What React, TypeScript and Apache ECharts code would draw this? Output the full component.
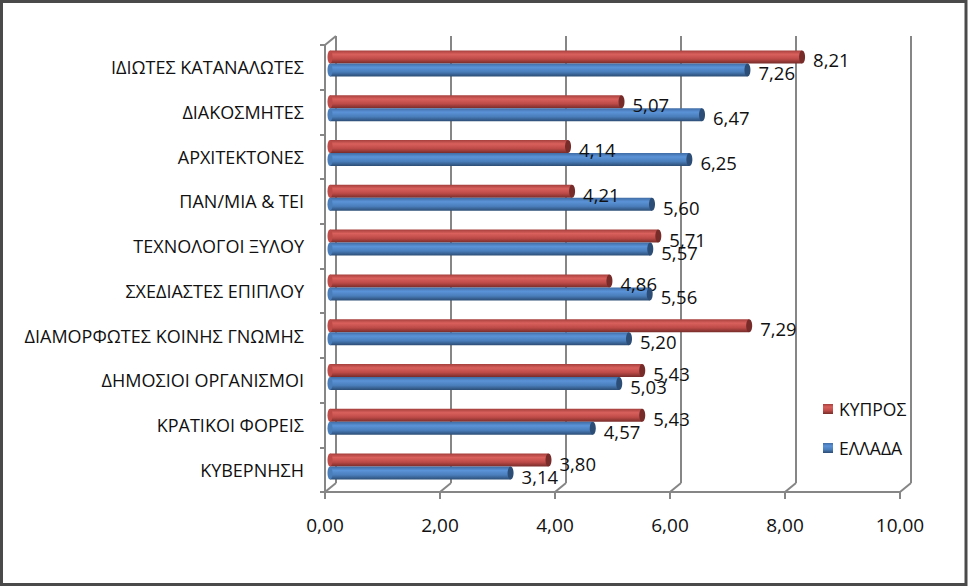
import React, { useEffect, useRef } from "react";
import * as echarts from "echarts";

const categories = ["ΚΥΒΕΡΝΗΣΗ", "ΚΡΑΤΙΚΟΙ ΦΟΡΕΙΣ", "ΔΗΜΟΣΙΟΙ ΟΡΓΑΝΙΣΜΟΙ", "ΔΙΑΜΟΡΦΩΤΕΣ ΚΟΙΝΗΣ ΓΝΩΜΗΣ", "ΣΧΕΔΙΑΣΤΕΣ ΕΠΙΠΛΟΥ", "ΤΕΧΝΟΛΟΓΟΙ ΞΥΛΟΥ", "ΠΑΝ/ΜΙΑ & ΤΕΙ", "ΑΡΧΙΤΕΚΤΟΝΕΣ", "ΔΙΑΚΟΣΜΗΤΕΣ", "ΙΔΙΩΤΕΣ ΚΑΤΑΝΑΛΩΤΕΣ"];
const greece = [3.14, 4.57, 5.03, 5.2, 5.56, 5.57, 5.6, 6.25, 6.47, 7.26];
const cyprus = [3.8, 5.43, 5.43, 7.29, 4.86, 5.71, 4.21, 4.14, 5.07, 8.21];
const ticks = [0, 2, 4, 6, 8, 10];

const FONT = "'Open Sans', sans-serif";
const GRID = "#868686";
const BAR_H = 13;
const fmt = (v: number) => v.toFixed(2).replace(".", ",");

const grad = (a: string, b: string, c: string, d: string) => new echarts.graphic.LinearGradient(0, 0, 0, 1, [
  { offset: 0, color: a }, { offset: 0.3, color: b }, { offset: 0.65, color: c }, { offset: 1, color: d },
]);

const barSeries = (name: string, data: number[], fill: any) => ({
  type: "bar", name, data, xAxisIndex: 2, yAxisIndex: 2, barWidth: BAR_H, barGap: "0%", z: 5,
  itemStyle: { color: fill },
  label: { show: true, position: "right", distance: 11, offset: [0, 3], formatter: (p: any) => fmt(p.value), fontFamily: FONT, fontSize: 18.5, color: "#111" },
});

const capSeries = (name: string, data: number[], dy: number, capColor: string, fill: string) => ({
  type: "custom", name, xAxisIndex: 2, yAxisIndex: 2, z: 6, silent: true,
  data: data.map((v, i) => [v, i]),
  renderItem: (_: any, api: any) => {
    const end = api.coord([api.value(0), api.value(1)]);
    const start = api.coord([0, api.value(1)]);
    return { type: "group", children: [
      { type: "ellipse", shape: { cx: start[0], cy: end[1] + dy, rx: 2.5, ry: BAR_H / 2 }, style: { fill } },
      { type: "ellipse", shape: { cx: end[0], cy: end[1] + dy, rx: 3, ry: BAR_H / 2 }, style: { fill: capColor } },
    ] };
  },
});

// third value: which edge of the category band the connector starts from (+1 bottom, -1 top)
const diagonalSeries = (data: number[][]) => ({
  type: "custom", xAxisIndex: 0, yAxisIndex: 0, z: 2, silent: true, data,
  renderItem: (_: any, api: any) => {
    const p = api.coord([api.value(0), api.value(1)]);
    const band = api.size([0, 1])[1];
    const y = p[1] + (api.value(2) * band) / 2;
    return { type: "line", shape: { x1: p[0], y1: y, x2: p[0] + 11, y2: y - 9 }, style: { stroke: GRID, lineWidth: 2 } };
  },
});

export default function App() {
  const ref = useRef<HTMLDivElement>(null);
  useEffect(() => {
    document.body.style.margin = "0";
    const chart = echarts.init(ref.current!, null, { renderer: "svg" });
    chart.setOption({
      animation: false,
      backgroundColor: "#fff",
      grid: [
        { left: 325, top: 45, width: 575, height: 447 },
        { left: 336, top: 36, width: 575, height: 447 },
        { left: 330, top: 41, width: 575, height: 448 },
      ],
      xAxis: [
        { gridIndex: 0, type: "value", min: 0, max: 10, interval: 2, splitLine: { show: false },
          axisLine: { show: true, lineStyle: { color: GRID, width: 2 } },
          axisTick: { show: true, length: 7, lineStyle: { color: GRID, width: 2 } },
          axisLabel: { fontFamily: FONT, fontSize: 19, color: "#111", margin: 23, formatter: (v: number) => fmt(v) } },
        { gridIndex: 1, type: "value", min: 0, max: 10, interval: 2, axisLine: { show: false }, axisTick: { show: false }, axisLabel: { show: false },
          splitLine: { show: true, lineStyle: { color: GRID, width: 2 } } },
        { gridIndex: 2, type: "value", min: 0, max: 10, interval: 2, show: false },
      ],
      yAxis: [
        { gridIndex: 0, type: "category", data: categories,
          axisLine: { show: true, lineStyle: { color: GRID, width: 2 } },
          axisTick: { show: true, length: 5, lineStyle: { color: GRID, width: 2 } },
          axisLabel: { fontFamily: FONT, fontSize: 18, color: "#111", margin: 21, padding: [3, 0, 0, 0] } },
        { gridIndex: 1, type: "category", data: categories, show: false },
        { gridIndex: 2, type: "category", data: categories, show: false },
      ],
      legend: {
        left: 818, top: 395, orient: "vertical", itemWidth: 10, itemHeight: 10, itemGap: 21, icon: "rect", selectedMode: false,
        data: ["ΚΥΠΡΟΣ", "ΕΛΛΑΔΑ"],
        textStyle: { fontFamily: FONT, fontSize: 17.5, color: "#111", padding: [0, 0, 0, 1] },
      },
      series: [
        { type: "line", xAxisIndex: 1, yAxisIndex: 1, data: [], silent: true },
        diagonalSeries(ticks.map((t) => [t, 0, 1]).concat([[0, 9, -1]])),
        barSeries("ΚΥΠΡΟΣ", cyprus, grad("#a53f3c", "#d9605c", "#be4b48", "#772c2a")),
        barSeries("ΕΛΛΑΔΑ", greece, grad("#3f6ca5", "#5b93d8", "#4a7ebb", "#2c4d75")),
        capSeries("c1", greece, BAR_H / 2, "#2c4d75", "#4a7ebb"),
        capSeries("c2", cyprus, -BAR_H / 2, "#772c2a", "#be4b48"),
      ],
      graphic: [
        { type: "rect", silent: true, z: 100, shape: { x: 1.5, y: 1.5, width: 964.5, height: 583 }, style: { fill: "none", stroke: "#4a4a4a", lineWidth: 3 } },
      ],
    });
    return () => chart.dispose();
  }, []);
  return <div ref={ref} style={{ width: 969, height: 587 }} />;
}
